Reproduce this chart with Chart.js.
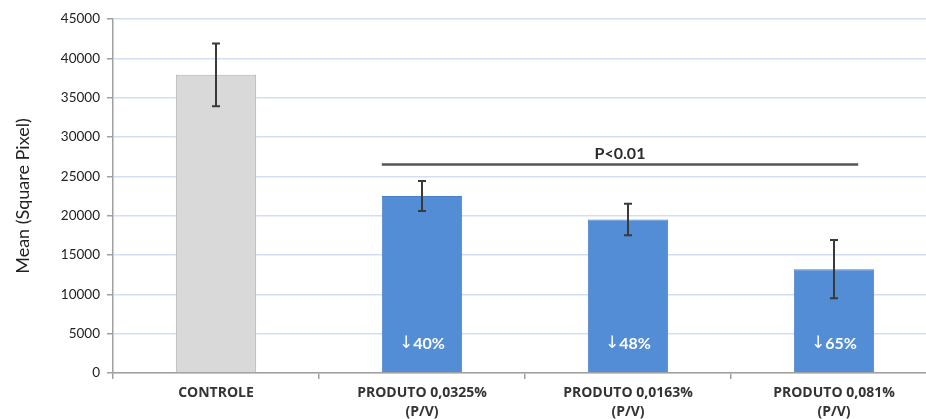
<!DOCTYPE html>
<html>
<head>
<meta charset="utf-8">
<script src="https://cdn.jsdelivr.net/npm/chart.js@4/dist/chart.umd.min.js"></script>
<style>
  html, body { margin: 0; padding: 0; background: #fff; overflow: hidden; }
  #wrap { width: 926px; height: 419px; overflow: hidden; }
  canvas { display: block; }
</style>
</head>
<body>
<div id="wrap"><canvas id="c" width="938" height="419"></canvas></div>
<script>
// Group names, means and standard errors
const categories = [
  ['CONTROLE'],
  ['PRODUTO 0,0325%', '(P/V)'],
  ['PRODUTO 0,0163%', '(P/V)'],
  ['PRODUTO 0,081%', '(P/V)']
];
const meanArea = [37900, 22500, 19500, 13200];
const errorArea = [4000, 1900, 2000, 3700];
const reductionLabels = ['', '40%', '48%', '65%'];
const yTicks = [0, 5000, 10000, 15000, 20000, 25000, 30000, 35000, 40000, 45000];
const significance = { from: 1, to: 3, level: 26500, text: 'P<0.01' };

const barColors = ['#d9d9d9', '#538dd5', '#538dd5', '#538dd5'];
const barBorders = ['#b0b0b0', '#4a80c4', '#4a80c4', '#4a80c4'];

const errorBars = {
  id: 'errorBars',
  afterDatasetsDraw(chart) {
    const { ctx, scales: { x, y } } = chart;
    ctx.save();
    ctx.strokeStyle = '#3a3a3a';
    ctx.lineWidth = 2;
    meanArea.forEach((m, i) => {
      const px = x.getPixelForValue(i);
      const top = y.getPixelForValue(m + errorArea[i]);
      const bot = y.getPixelForValue(m - errorArea[i]);
      ctx.beginPath();
      ctx.moveTo(px, top); ctx.lineTo(px, bot);
      ctx.moveTo(px - 4, top); ctx.lineTo(px + 4, top);
      ctx.moveTo(px - 4, bot); ctx.lineTo(px + 4, bot);
      ctx.stroke();
    });
    ctx.restore();
  }
};

// "↓NN%" reduction labels inside the treated bars
const barTexts = {
  id: 'barTexts',
  afterDatasetsDraw(chart) {
    const { ctx, scales: { x, y } } = chart;
    ctx.save();
    ctx.fillStyle = '#ffffff';
    ctx.textBaseline = 'middle';
    ctx.textAlign = 'left';
    const arrowFont = '17px "DejaVu Sans", sans-serif';
    const numFont = 'bold 16px "Lato", sans-serif';
    reductionLabels.forEach((t, i) => {
      if (!t) return;
      ctx.font = arrowFont;
      const aw = ctx.measureText('\u2193').width;
      ctx.font = numFont;
      const nw = ctx.measureText(t).width;
      const cx = x.getPixelForValue(i);
      const cy = y.getPixelForValue(3700);
      const start = cx - (aw + nw) / 2;
      ctx.font = arrowFont;
      ctx.fillText('\u2193', start, cy);
      ctx.font = numFont;
      ctx.fillText(t, start + aw, cy);
    });
    ctx.restore();
  }
};

const sigBracket = {
  id: 'sigBracket',
  afterDatasetsDraw(chart) {
    const { ctx, scales: { y } } = chart;
    const bars = chart.getDatasetMeta(0).data;
    const a = bars[significance.from], b = bars[significance.to];
    const x1 = a.x - a.width / 2;
    const x2 = b.x + b.width / 2 - 16;
    const py = y.getPixelForValue(significance.level);
    ctx.save();
    ctx.strokeStyle = '#555555';
    ctx.lineWidth = 2.5;
    ctx.beginPath();
    ctx.moveTo(x1, py); ctx.lineTo(x2, py);
    ctx.stroke();
    ctx.fillStyle = '#2b2b2b';
    ctx.font = 'bold 16px "Lato", sans-serif';
    ctx.textAlign = 'center';
    ctx.textBaseline = 'alphabetic';
    ctx.fillText(significance.text, (x1 + x2) / 2, py - 6);
    ctx.restore();
  }
};

new Chart(document.getElementById('c'), {
  type: 'bar',
  data: {
    labels: categories,
    datasets: [{
      data: meanArea,
      backgroundColor: barColors,
      borderColor: barBorders,
      borderWidth: 1,
      barPercentage: 0.39,
      categoryPercentage: 1.0
    }]
  },
  options: {
    responsive: false,
    animation: false,
    layout: { padding: { top: 19, right: 1, left: 0, bottom: 0 } },
    plugins: { legend: { display: false }, tooltip: { enabled: false } },
    scales: {
      x: {
        grid: { drawOnChartArea: false, offset: true, tickLength: 6, tickColor: '#a0a0a0', lineWidth: 1.5 },
        border: { color: '#a0a0a0', width: 1.5 },
        ticks: {
          color: '#333333',
          padding: 4,
          maxRotation: 0,
          autoSkip: false,
          font: { family: '"Open Sans", sans-serif', size: 14, weight: 'bold', lineHeight: 1.4 }
        },
        afterFit(scale) { scale.height = 46; }
      },
      y: {
        min: 0,
        max: 45000,
        afterBuildTicks(scale) { scale.ticks = yTicks.map(v => ({ value: v })); },
        grid: { color: '#d3dff0', lineWidth: 1.5, tickLength: 6, tickColor: '#a0a0a0' },
        border: { color: '#a0a0a0', width: 1.5 },
        ticks: {
          color: '#222222',
          padding: 7,
          font: { family: '"Lato", sans-serif', size: 13.5 },
          callback: v => String(v)
        },
        title: {
          display: true,
          text: 'Mean (Square Pixel)',
          color: '#222222',
          font: { family: '"Lato", sans-serif', size: 18 },
          padding: { top: 12, bottom: 6 }
        },
        afterFit(scale) { scale.width = 113; }
      }
    }
  },
  plugins: [errorBars, barTexts, sigBracket]
});
</script>
</body>
</html>
